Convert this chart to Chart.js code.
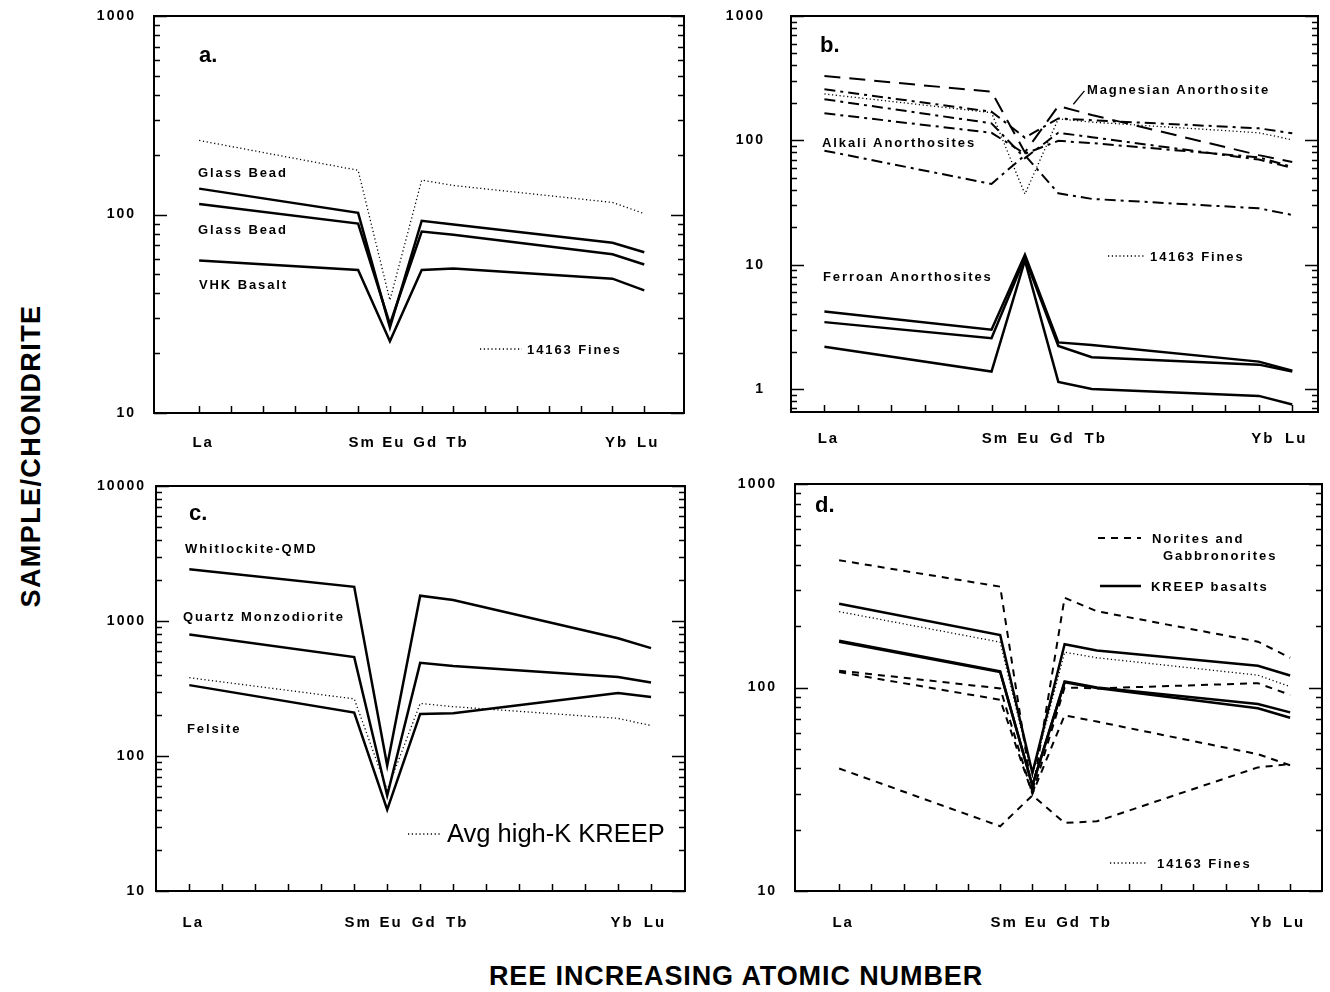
<!DOCTYPE html>
<html>
<head>
<meta charset="utf-8">
<title>REE patterns</title>
<script src="https://cdn.jsdelivr.net/npm/chart.js@4.4.0/dist/chart.umd.min.js"></script>
<style>
    body { margin: 0; width: 1330px; height: 992px; position: relative; overflow: hidden; background: #fff;
           font-family: "Liberation Sans", Arial, sans-serif; color: #000; }
    .box { position: absolute; }
    .txt { position: absolute; white-space: nowrap; line-height: 1; font-weight: bold; font-size: 13px;
           letter-spacing: 1.9px; transform: translateY(-50%); }
    .tag { font-size: 22px; letter-spacing: 0; }
    .big { font-weight: normal; font-size: 25.5px; letter-spacing: 0; }
    #ytitle { position: absolute; left: 31px; top: 456px; font-weight: bold; font-size: 27px; letter-spacing: 1.4px;
              white-space: nowrap; transform: translate(-50%, -50%) rotate(-90deg); }
    #xtitle { position: absolute; left: 736px; top: 976px; font-weight: bold; font-size: 27px; letter-spacing: 0.9px;
              white-space: nowrap; transform: translate(-50%, -50%); }
</style>
</head>
<body>
<div id="ytitle">SAMPLE/CHONDRITE</div>
<div id="xtitle">REE INCREASING ATOMIC NUMBER</div>

<script>
// element positions (atomic number) used by the patterns
const REE_X = [57, 62, 63, 64, 65, 70, 71];
const REE_NAMES = ['La', 'Sm', 'Eu', 'Gd', 'Tb', 'Yb', 'Lu'];
// one tick for every lanthanide La..Lu
const ELEMENT_TICKS = [57, 58, 59, 60, 61, 62, 63, 64, 65, 66, 67, 68, 69, 70, 71];

// 14163 fines, shown in a, b and d
const fines14163 = [236, 167, 37, 149, 140, 115, 101];

// a.
const glassBeadHigh = [135, 102, 27, 93, 89, 72, 64.5];
const glassBeadLow = [113, 90, 28, 82, 79, 63, 56];
const vhkBasalt = [58.6, 52.5, 23, 52.6, 53.5, 47.5, 41.5];

// b.
const magnesianAnorth = [329, 246, 80, 189, 160, 76, 67];
const alkaliAnorth1 = [257, 170, 105, 150, 145, 125, 114];
const alkaliAnorth2 = [214, 137, 72, 115, 106, 70, 60];
const alkaliAnorth3 = [165, 115, 78, 99, 95, 73, 61];
const alkaliAnorth4 = [82.6, 44.6, 76, 37.5, 33.8, 28.4, 25.1];
const ferroanAnorth1 = [4.2, 3.0, 12, 2.37, 2.26, 1.66, 1.40];
const ferroanAnorth2 = [3.45, 2.56, 11.4, 2.22, 1.80, 1.57, 1.38];
const ferroanAnorth3 = [2.19, 1.38, 10.8, 1.14, 1.0, 0.88, 0.75];

// c.
const whitlockiteQmd = [2420, 1790, 85, 1540, 1430, 745, 630];
const quartzMonzodiorite = [795, 540, 51, 490, 465, 385, 350];
const felsite = [335, 210, 40, 205, 207, 293, 274];
const avgHighKKreep = [380, 265, 56, 245, 232, 190, 168];

// d.
const norite1 = [422, 313, 30, 276, 237, 168, 140];
const norite2 = [121, 99, 30, 100, 99, 105, 92];
const norite3 = [119, 87, 30, 73, 68, 47, 41.5];
const norite4 = [40, 20.8, 29.5, 21.6, 22, 40.5, 42];
const kreepBasalt1 = [258, 181, 38, 163, 152, 128, 114.5];
const kreepBasalt2 = [168, 119, 33, 106, 99.5, 79, 71];
const kreepBasalt3 = [170, 120, 33, 107, 100, 83, 75.5];

// y tick labels per panel
const Y_TICKS_A = [10, 100, 1000];
const Y_TICKS_B = [1, 10, 100, 1000];
const Y_TICKS_C = [10, 100, 1000, 10000];
const Y_TICKS_D = [10, 100, 1000];

const TICK_NAME = {};
REE_X.forEach((x, i) => { TICK_NAME[x] = REE_NAMES[i]; });

// line looks
const STYLES = {
    solid:   { borderWidth: 2.5, borderDash: [] },
    dotted:  { borderWidth: 1.3, borderDash: [1.2, 2.6] },
    dashed:  { borderWidth: 2, borderDash: [7, 6] },
    longdash:{ borderWidth: 2, borderDash: [16, 9] },
    dashdot: { borderWidth: 2, borderDash: [11, 5, 3, 5] }
};

function series(values, style) {
    return Object.assign({
        data: REE_X.map((x, i) => ({ x: x, y: values[i] })),
        borderColor: '#000',
        pointRadius: 0,
        tension: 0,
        fill: false
    }, STYLES[style]);
}

const Y_W = 90, PAD_T = 14, PAD_R = 10, X_H = 50;
const TICK_FONT = { family: '"Liberation Sans", Arial, sans-serif', weight: 'bold', size: 14 };
const EL_FONT = { family: '"Liberation Sans", Arial, sans-serif', weight: 'bold', size: 15 };

function makePanel(p) {
    const boxLeft = p.left - Y_W, boxTop = p.top - PAD_T;
    const w = p.right - p.left + Y_W + PAD_R;
    const h = p.bottom - p.top + PAD_T + X_H;

    const div = document.createElement('div');
    div.className = 'box';
    div.style.left = boxLeft + 'px';
    div.style.top = boxTop + 'px';
    const canvas = document.createElement('canvas');
    canvas.width = w;
    canvas.height = h;
    div.appendChild(canvas);
    document.body.appendChild(div);

    // texts of the panel
    p.texts.forEach(t => {
        const el = document.createElement('div');
        el.className = 'txt' + (t.cls ? ' ' + t.cls : '');
        el.textContent = t.text;
        el.style.left = t.x + 'px';
        el.style.top = t.y + 'px';
        document.body.appendChild(el);
    });

    const frameTicks = {
        id: 'frameTicks',
        beforeDraw(chart) {
            chart.ctx.letterSpacing = '2px';
        },
        afterDraw(chart) {
            const ctx = chart.ctx;
            const { left, top, right, bottom } = chart.chartArea;
            const xs = chart.scales.x, ys = chart.scales.y;
            ctx.save();
            ctx.letterSpacing = '0px';
            ctx.strokeStyle = '#000';
            ctx.setLineDash([]);
            ctx.lineWidth = 2;
            ctx.strokeRect(left, top, right - left, bottom - top);

            ctx.lineWidth = 1.5;
            ctx.beginPath();
            ELEMENT_TICKS.forEach(v => {
                const px = Math.round(xs.getPixelForValue(v)) + 0.5;
                ctx.moveTo(px, bottom);
                ctx.lineTo(px, bottom - 7);
            });
            const lo = Math.floor(Math.log10(ys.min)), hi = Math.ceil(Math.log10(ys.max));
            for (let d = lo; d <= hi; d++) {
                for (let m = 1; m <= 9; m++) {
                    const v = m * Math.pow(10, d);
                    if (v < ys.min * 0.999 || v > ys.max * 1.001) continue;
                    const py = Math.round(ys.getPixelForValue(v)) + 0.5;
                    const len = m === 1 ? 13 : 6;
                    ctx.moveTo(left, py); ctx.lineTo(left + len, py);
                    ctx.moveTo(right, py); ctx.lineTo(right - len, py);
                }
            }
            ctx.stroke();

            // legend samples (page coordinates)
            (p.samples || []).forEach(s => {
                const st = STYLES[s.style];
                ctx.lineWidth = st.borderWidth;
                ctx.setLineDash(st.borderDash);
                ctx.beginPath();
                ctx.moveTo(s.x1 - boxLeft, s.y - boxTop);
                ctx.lineTo(s.x2 - boxLeft, s.y - boxTop);
                ctx.stroke();
            });

            // leader from a label to its line, in data coordinates
            if (p.leader) {
                ctx.lineWidth = 1.3;
                ctx.setLineDash([]);
                ctx.beginPath();
                ctx.moveTo(xs.getPixelForValue(p.leader[0][0]), ys.getPixelForValue(p.leader[0][1]));
                ctx.lineTo(xs.getPixelForValue(p.leader[1][0]), ys.getPixelForValue(p.leader[1][1]));
                ctx.stroke();
            }
            ctx.restore();
        }
    };

    return new Chart(canvas, {
        type: 'line',
        data: { datasets: p.datasets },
        options: {
            responsive: false,
            animation: false,
            devicePixelRatio: 1,
            layout: { padding: { top: PAD_T, right: PAD_R, left: 0, bottom: 0 } },
            plugins: { legend: { display: false }, tooltip: { enabled: false } },
            scales: {
                x: {
                    type: 'linear',
                    min: p.xMin,
                    max: p.xMax,
                    grid: { display: false, drawTicks: false },
                    border: { display: false },
                    afterBuildTicks: s => { s.ticks = ELEMENT_TICKS.map(v => ({ value: v })); },
                    afterFit: s => { s.height = X_H; s.paddingLeft = 0; s.paddingRight = 0; },
                    ticks: {
                        callback: v => TICK_NAME[v] || '',
                        padding: p.xPad,
                        labelOffset: 4,
                        autoSkip: false,
                        maxRotation: 0,
                        color: '#000',
                        font: EL_FONT
                    }
                },
                y: {
                    type: 'logarithmic',
                    min: p.yMin,
                    max: p.yMax,
                    grid: { display: false, drawTicks: false },
                    border: { display: false },
                    afterBuildTicks: s => { s.ticks = p.yTicks.map(v => ({ value: v })); },
                    afterFit: s => { s.width = Y_W; s.paddingTop = 0; s.paddingBottom = 0; },
                    ticks: {
                        callback: v => String(v),
                        padding: p.yPad,
                        autoSkip: false,
                        color: '#000',
                        font: TICK_FONT
                    }
                }
            }
        },
        plugins: [frameTicks]
    });
}

// a.
makePanel({
    left: 154, top: 16, right: 684, bottom: 413,
    xMin: 55.58, xMax: 72.25, yMin: 10, yMax: 1000, yTicks: Y_TICKS_A,
    xPad: 21, yPad: 18,
    datasets: [
        series(fines14163, 'dotted'),
        series(glassBeadHigh, 'solid'),
        series(glassBeadLow, 'solid'),
        series(vhkBasalt, 'solid')
    ],
    samples: [{ style: 'dotted', x1: 480, x2: 522, y: 349 }],
    texts: [
        { text: 'a.', x: 199, y: 55, cls: 'tag' },
        { text: 'Glass Bead', x: 198, y: 172 },
        { text: 'Glass Bead', x: 198, y: 229 },
        { text: 'VHK Basalt', x: 199, y: 284 },
        { text: '14163 Fines', x: 527, y: 349 }
    ]
});

// b.
makePanel({
    left: 791, top: 16, right: 1318, bottom: 412,
    xMin: 56.0, xMax: 71.77, yMin: 0.653, yMax: 1000, yTicks: Y_TICKS_B,
    xPad: 18, yPad: 26,
    datasets: [
        series(fines14163, 'dotted'),
        series(magnesianAnorth, 'longdash'),
        series(alkaliAnorth1, 'dashdot'),
        series(alkaliAnorth2, 'dashdot'),
        series(alkaliAnorth3, 'dashdot'),
        series(alkaliAnorth4, 'dashdot'),
        series(ferroanAnorth1, 'solid'),
        series(ferroanAnorth2, 'solid'),
        series(ferroanAnorth3, 'solid')
    ],
    leader: [[64.45, 195], [64.78, 250]],
    samples: [{ style: 'dotted', x1: 1108, x2: 1145, y: 256 }],
    texts: [
        { text: 'b.', x: 820, y: 45, cls: 'tag' },
        { text: 'Magnesian Anorthosite', x: 1087, y: 89 },
        { text: 'Alkali Anorthosites', x: 822, y: 142 },
        { text: 'Ferroan Anorthosites', x: 823, y: 276 },
        { text: '14163 Fines', x: 1150, y: 256 }
    ]
});

// c.
makePanel({
    left: 156, top: 486, right: 685, bottom: 891,
    xMin: 55.99, xMax: 72.03, yMin: 10, yMax: 10000, yTicks: Y_TICKS_C,
    xPad: 23, yPad: 10,
    datasets: [
        series(avgHighKKreep, 'dotted'),
        series(whitlockiteQmd, 'solid'),
        series(quartzMonzodiorite, 'solid'),
        series(felsite, 'solid')
    ],
    samples: [{ style: 'dotted', x1: 408, x2: 440, y: 834 }],
    texts: [
        { text: 'c.', x: 189, y: 513, cls: 'tag' },
        { text: 'Whitlockite-QMD', x: 185, y: 548 },
        { text: 'Quartz Monzodiorite', x: 183, y: 616 },
        { text: 'Felsite', x: 187, y: 728 },
        { text: 'Avg high-K KREEP', x: 447, y: 834, cls: 'big' }
    ]
});

// d.
makePanel({
    left: 795, top: 484, right: 1322, bottom: 891,
    xMin: 55.63, xMax: 71.99, yMin: 10, yMax: 1000, yTicks: Y_TICKS_D,
    xPad: 23, yPad: 18,
    datasets: [
        series(fines14163, 'dotted'),
        series(norite1, 'dashed'),
        series(norite2, 'dashed'),
        series(norite3, 'dashed'),
        series(norite4, 'dashed'),
        series(kreepBasalt1, 'solid'),
        series(kreepBasalt2, 'solid'),
        series(kreepBasalt3, 'solid')
    ],
    samples: [
        { style: 'dashed', x1: 1098, x2: 1141, y: 538 },
        { style: 'solid', x1: 1100, x2: 1141, y: 586 },
        { style: 'dotted', x1: 1110, x2: 1148, y: 863 }
    ],
    texts: [
        { text: 'd.', x: 815, y: 505, cls: 'tag' },
        { text: 'Norites and', x: 1152, y: 538 },
        { text: 'Gabbronorites', x: 1163, y: 555 },
        { text: 'KREEP basalts', x: 1151, y: 586 },
        { text: '14163 Fines', x: 1157, y: 863 }
    ]
});
</script>
</body>
</html>
